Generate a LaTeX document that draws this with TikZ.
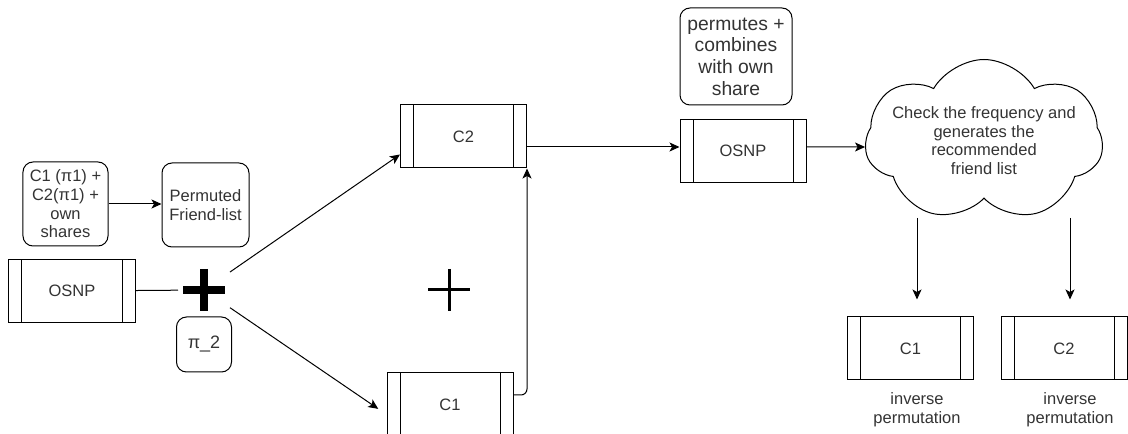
\documentclass[tikz,border=0pt]{standalone}
\usepackage{fontspec}
\setmainfont{Liberation Sans}
\usetikzlibrary{shapes.symbols, arrows.meta}
\tikzset{proc/.style = {rectangle, line width=1bp, minimum width=126bp, minimum height=63bp, text centered, draw=black, path picture={\draw[line width=1bp] ([xshift=13bp]path picture bounding box.north west) -- ([xshift=13bp]path picture bounding box.south west) ([xshift=-13bp]path picture bounding box.north east) -- ([xshift=-13bp]path picture bounding box.south east);}}}
\tikzset{rbox/.style = {rectangle, rounded corners=10bp, line width=1bp, inner sep=2bp, align=center, draw=black}}
\tikzset{crossmark/.style = {rectangle, minimum size=42bp, inner sep=0pt, outer sep=5bp, path picture={\draw[line width=#1] (path picture bounding box.north) -- (path picture bounding box.south) (path picture bounding box.west) -- (path picture bounding box.east);}}}
\tikzset{arrow/.style = {line width=1bp, -{Stealth[length=10bp, width=9bp, inset=2.5bp]}}}
\tikzset{bigfont/.style = {font=\fontsize{19.3bp}{21.7bp}\selectfont}}

\begin{document}
\begin{tikzpicture}[x=1bp, y=-1bp, node distance=54.5bp, line width=1bp, text=black!80, font=\fontsize{16.5bp}{18.6bp}\selectfont]
	\useasboundingbox (0,0) rectangle (1128,434);
	\clip (0,0) rectangle (1128,434);

	\node (shares)		[rbox, minimum width=85bp, minimum height=84bp]		at (65.5,204)	{C1 (π1) +\\C2(π1) +\\own\\shares};
	\node (permlist)	[rbox, minimum width=87bp, minimum height=84bp]		at (205.5,205)	{Permuted\\Friend-list};
	\node (osnpA)		[proc]						at (72,291)		{OSNP};
	\node (plusA)		[crossmark=8bp]				at (204,290)	{};
	\node (piTwo)		[rbox, below of=plusA, minimum size=55bp, font=\fontsize{18bp}{20bp}\selectfont]	{π\_2};
	\node (c2mid)		[proc]						at (463.5,136.5)	{C2};
	\node (plusB)		[crossmark=3bp]				at (449,290)	{};
	\node (c1mid)		[proc]						at (450,404.5)	{C1};
	\node (osnpB)		[proc]						at (743,151)	{OSNP};
	\node (combine)		[rbox, bigfont, minimum width=112bp, minimum height=97bp]	at (736,56.5)	{permutes +\\combines\\with own\\share};
	\node (check)		[cloud, draw=black, cloud puffs=7, cloud puff arc=120, cloud ignores aspect, minimum width=238bp, minimum height=162bp, inner xsep=-16bp, inner ysep=0pt, align=center]	at (984,140.5)	{Check the frequency and\\generates the\\recommended\\friend list};
	\node (c1end)		[proc]						at (910.5,348.5)	{C1};
	\node (c2end)		[proc]						at (1064,348.5)		{C2};
	\node (invA)		[align=center]				at (917,410)	{inverse\\permutation};
	\node (invB)		[align=center]				at (1070,410)	{inverse\\permutation};

	\draw [arrow] (shares.east) -- (shares.east -| permlist.west);
	\draw (osnpA) -- (plusA);
	\draw [arrow] (plusA) -- ([yshift=-18bp]c2mid.west);
	\draw [arrow, shorten >=10bp] (plusA) -- ([yshift=-10bp]c1mid.west);
	\draw [arrow, rounded corners=6bp] ([yshift=9.5bp]c1mid.east) -| (c2mid.south east);
	\draw [arrow] ([yshift=4bp]osnpB.west -| c2mid.east) -- ([yshift=4bp]osnpB.west);
	\draw [arrow] ([yshift=4bp]osnpB.east) -- ([yshift=-6.5bp]check.west);

	% the two results hang a little below the cloud
	\draw [arrow, shorten >=17bp] ([yshift=-77.5bp]check.center -| invA) -- (c1end.north -| invA);
	\draw [arrow, shorten >=17bp] ([yshift=-77.5bp]check.center -| invB) -- (c2end.north -| invB);
\end{tikzpicture}
\end{document}
